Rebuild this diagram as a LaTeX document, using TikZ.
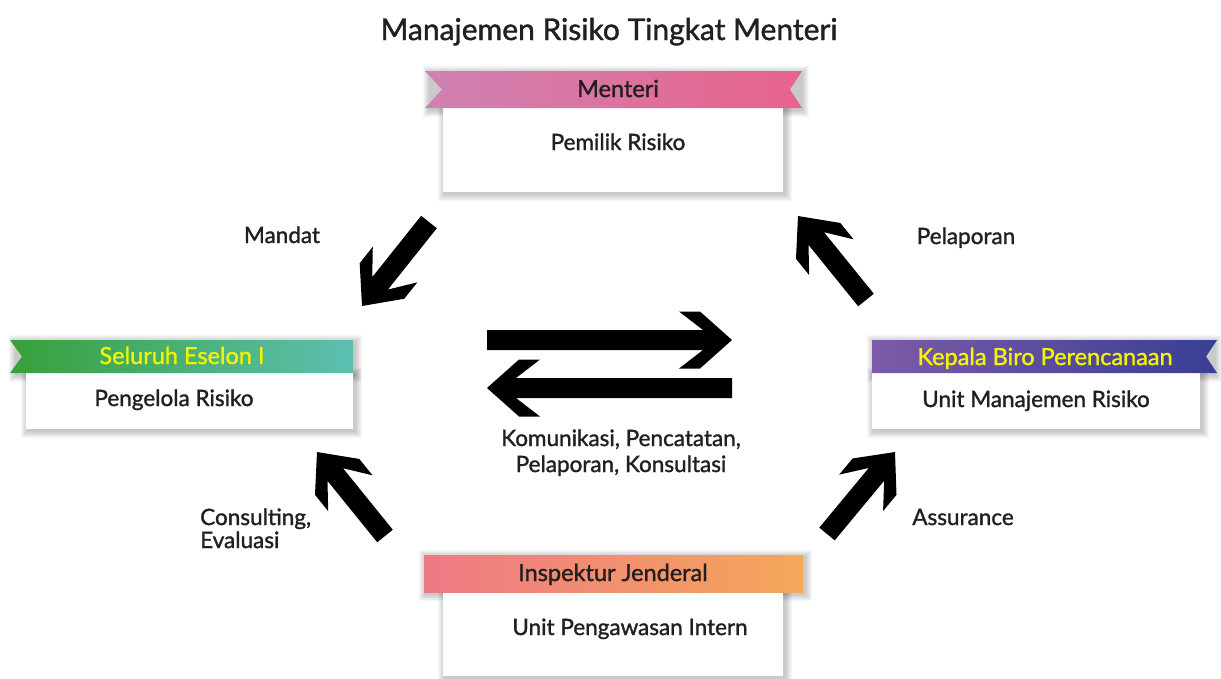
\documentclass[tikz,border=0pt]{standalone}
\usepackage{fontspec}
\setmainfont{Lato}[FakeBold=1.3]
\usetikzlibrary{calc}
\definecolor{txt}{HTML}{231E1F}
\definecolor{menL}{HTML}{CF82B2}
\definecolor{menR}{HTML}{E8638C}
\definecolor{selL}{HTML}{37A03A}
\definecolor{selR}{HTML}{5CC0B2}
\definecolor{kepL}{HTML}{7C5BA8}
\definecolor{kepR}{HTML}{383F94}
\definecolor{insL}{HTML}{EE7985}
\definecolor{insR}{HTML}{F5A75A}
\definecolor{yel}{HTML}{F4F400}
\tikzset{
  whitebox/.style={fill=white},
  shadowlayer/.style={fill=black, opacity=0.03},
  lbl/.style={inner sep=0pt, anchor=base, text=txt, font=\fontsize{22.5}{26}\selectfont},
  rlbl/.style={inner sep=0pt, anchor=base, font=\fontsize{23.5}{26}\selectfont},
  arrowfill/.style={fill=black}
}
\newcommand\softshadow[2]{%
  \foreach \s in {1,...,7}{\fill[shadowlayer] ($(#1)+(1.5-\s,2-\s)$) rectangle ($(#2)+(1.5+\s,2+\s)$);}%
}
\newcommand\blockarrow[2]{%
  \path let \p1=($(#2)-(#1)$) in \pgfextra{\pgfmathsetmacro\tmpL{veclen(\x1,\y1)}\pgfmathsetmacro\tmpA{atan2(\y1,\x1)}\xdef\BAlen{\tmpL}\xdef\BAang{\tmpA}};
  \fill[arrowfill,shift={(#1)},rotate=\BAang]
    (0,-10) -- (\BAlen-29,-10) -- (\BAlen-53,-28.5) -- (\BAlen-32,-28.5) -- (\BAlen,0)
    -- (\BAlen-32,28.5) -- (\BAlen-53,28.5) -- (\BAlen-29,10) -- (0,10) -- cycle;
}
\begin{document}
\begin{tikzpicture}[x=1pt,y=-1pt]
\useasboundingbox[fill=white] (0,0) rectangle (1221,678);

% title
\node[lbl, font=\fontsize{30}{34}\selectfont] (title) at (609,40) {Manajemen Risiko Tingkat Menteri};

% shadows
\coordinate (m1) at (443,108); \coordinate (m2) at (783,192);
\coordinate (mr1) at (428,71); \coordinate (mr2) at (800,108);
\coordinate (s1) at (26,373); \coordinate (s2) at (353,429);
\coordinate (sr1) at (14,340); \coordinate (sr2) at (353,373);
\coordinate (k1) at (872,373); \coordinate (k2) at (1200,429);
\coordinate (kr1) at (872,340); \coordinate (kr2) at (1213,373);
\coordinate (i1) at (443,592); \coordinate (i2) at (783,676);
\coordinate (ir1) at (424,555); \coordinate (ir2) at (803,592);
\softshadow{m1}{m2}\softshadow{mr1}{mr2}
\softshadow{s1}{s2}\softshadow{sr1}{sr2}
\softshadow{k1}{k2}\softshadow{kr1}{kr2}
\softshadow{i1}{i2}\softshadow{ir1}{ir2}

% Menteri
\path[whitebox] (m1) rectangle (m2);
\shade[left color=menL, right color=menR] (425,71) -- (802,71) -- (790,89.5) -- (802,108) -- (425,108) -- (442,89.5) -- cycle;
\node[rlbl, text=txt] (menteri) at (618,97) {Menteri};
\node[lbl] (pemilik) at (618,150) {Pemilik Risiko};

% Seluruh Eselon I
\path[whitebox] (s1) rectangle (s2);
\shade[left color=selL, right color=selR] (10,340) -- (353,340) -- (353,373) -- (10,373) -- (22,356.5) -- cycle;
\node[rlbl, text=yel] (eselon) at (182,364) {Seluruh Eselon I};
\node[lbl] (pengelola) at (174,406) {Pengelola Risiko};

% Kepala Biro Perencanaan
\path[whitebox] (k1) rectangle (k2);
\shade[left color=kepL, right color=kepR] (872,340) -- (1217,340) -- (1206,356.5) -- (1217,373) -- (872,373) -- cycle;
\node[rlbl, text=yel] (kepala) at (1045,365) {Kepala Biro Perencanaan};
\node[lbl] (unitmr) at (1036,407) {Unit Manajemen Risiko};

% Inspektur Jenderal
\path[whitebox] (i1) rectangle (i2);
\shade[left color=insL, right color=insR] (ir1) rectangle (ir2);
\node[rlbl, text=txt] (irjen) at (613,581) {Inspektur Jenderal};
\node[lbl] (unitpi) at (630,635) {Unit Pengawasan Intern};

% arrow end points
\coordinate (mandatA) at (429,222);
\coordinate (mandatB) at (362,306);
\coordinate (lapA) at (866,300);
\coordinate (lapB) at (798,216);
\coordinate (consA) at (385,536);
\coordinate (consB) at (317,452);
\coordinate (assA) at (827,534);
\coordinate (assB) at (895,452);
\coordinate (rA) at (487,340);
\coordinate (rB) at (732,340);
\coordinate (lA) at (732,388);
\coordinate (lB) at (487,388);

\blockarrow{mandatA}{mandatB}
\blockarrow{lapA}{lapB}
\blockarrow{consA}{consB}
\blockarrow{assA}{assB}
\blockarrow{rA}{rB}
\blockarrow{lA}{lB}

% labels
\node[lbl] (mandat) at (282,243) {Mandat};
\node[lbl] (pelaporan) at (966,244) {Pelaporan};
\node[lbl, anchor=base west, align=left, font=\fontsize{22.5}{23}\selectfont] (consult) at (200,548) {Consulting,\\Evaluasi};
\node[lbl] (assurance) at (963,525) {Assurance};
\node[lbl, align=center, font=\fontsize{22.5}{26}\selectfont] (komunikasi) at (621,472) {Komunikasi, Pencatatan,\\Pelaporan, Konsultasi};
\end{tikzpicture}
\end{document}
